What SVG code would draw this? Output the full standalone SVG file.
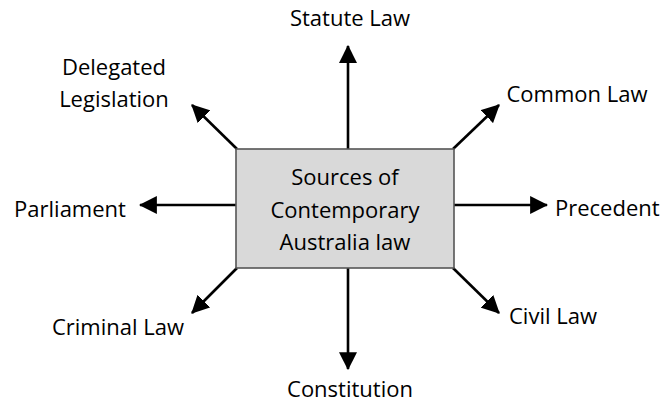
<svg xmlns="http://www.w3.org/2000/svg" width="668" height="402" viewBox="0 0 668 402">
<style>
text{font-family:"Open Sans","Noto Sans","Liberation Sans",sans-serif;font-size:22px;fill:#000}
.c{text-anchor:middle}
.ln{stroke:#000;stroke-width:2.6;fill:none;marker-end:url(#ah)}
.box{fill:#d9d9d9;stroke:#555;stroke-width:1.6}
</style>
<defs>
<marker id="ah" markerUnits="userSpaceOnUse" markerWidth="18" markerHeight="18" refX="15" refY="8" orient="auto" viewBox="0 0 16 16">
<path d="M0,0 L16,8 L0,16 Z" fill="#000"/>
</marker>
</defs>
<g id="connectors">
<line class="ln" x1="348" y1="149" x2="348" y2="46"/>
<line class="ln" x1="348" y1="268" x2="348" y2="369"/>
<line class="ln" x1="454" y1="205" x2="547" y2="205"/>
<line class="ln" x1="236" y1="205" x2="140" y2="205"/>
<line class="ln" x1="237" y1="149" x2="192" y2="105"/>
<line class="ln" x1="237" y1="268" x2="192" y2="313"/>
<line class="ln" x1="453" y1="149" x2="499" y2="105"/>
<line class="ln" x1="453" y1="268" x2="499" y2="313"/>
</g>
<g id="center">
<rect class="box" x="236" y="149" width="218" height="119"/>
<text class="c" x="345" y="185">Sources of</text>
<text class="c" x="345" y="218">Contemporary</text>
<text class="c" x="345" y="250">Australia law</text>
</g>
<g id="statute"><text class="c" x="350" y="26">Statute Law</text></g>
<g id="delegated"><text class="c" x="114" y="75">Delegated</text><text class="c" x="114" y="107">Legislation</text></g>
<g id="parliament"><text class="c" x="70" y="217">Parliament</text></g>
<g id="criminal"><text class="c" x="118" y="335">Criminal Law</text></g>
<g id="constitution"><text class="c" x="350" y="397">Constitution</text></g>
<g id="civil"><text class="c" x="553" y="324">Civil Law</text></g>
<g id="precedent"><text x="555" y="216">Precedent</text></g>
<g id="common"><text class="c" x="577" y="102">Common Law</text></g>
</svg>
